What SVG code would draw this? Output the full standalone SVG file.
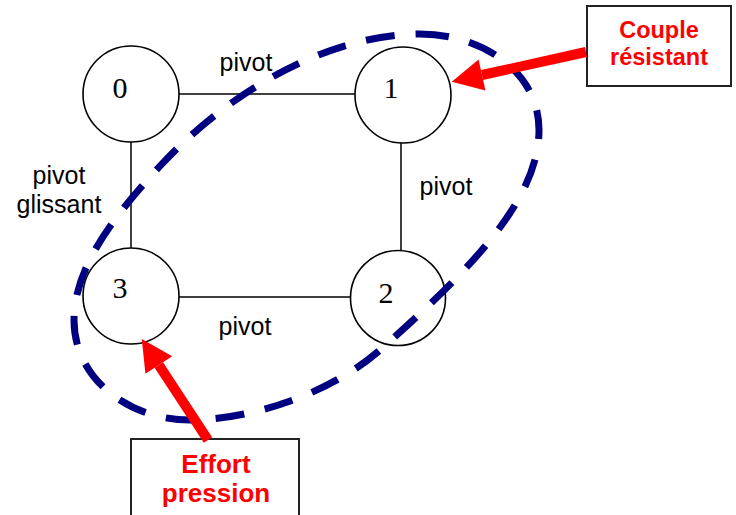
<svg xmlns="http://www.w3.org/2000/svg" width="736" height="515" viewBox="0 0 736 515">
<style>
.node{fill:#fff;stroke:#000;stroke-width:1.6}
.num{font-family:"Liberation Serif","Times New Roman",serif;font-size:30px;fill:#000;text-anchor:middle}
.lbl{font-family:"Liberation Sans",Arial,sans-serif;font-size:25px;fill:#000;text-anchor:middle}
.edge{stroke:#000;stroke-width:1.5;fill:none}
.box{fill:#fff;stroke:#222;stroke-width:2}
.red{font-family:"Liberation Sans",Arial,sans-serif;font-weight:bold;fill:#ff0000;text-anchor:middle}
.arrow{stroke:#ff0000;stroke-width:10;fill:none;marker-end:url(#head)}
.loop{fill:none;stroke:#000080;stroke-width:7;stroke-dasharray:29 21}
</style>
<defs>
<marker id="head" markerUnits="userSpaceOnUse" markerWidth="32" markerHeight="34" refX="0" refY="16" orient="auto" overflow="visible">
<path d="M0,0 L31,16 L0,32 Z" fill="#ff0000"/>
</marker>
</defs>
<g id="connectors">
<line class="edge" x1="179" y1="94" x2="355" y2="94"/>
<line class="edge" x1="131" y1="142" x2="131" y2="248"/>
<line class="edge" x1="401" y1="142" x2="401" y2="252"/>
<line class="edge" x1="179" y1="297" x2="351" y2="297"/>
</g>
<g id="node0"><circle class="node" cx="131" cy="94" r="48"/><text class="num" x="120" y="98">0</text></g>
<g id="node1"><circle class="node" cx="403" cy="95" r="48"/><text class="num" x="391" y="98">1</text></g>
<g id="node2"><circle class="node" cx="398" cy="298" r="47.5"/><text class="num" x="386" y="303">2</text></g>
<g id="node3"><circle class="node" cx="131" cy="296" r="48"/><text class="num" x="120" y="298">3</text></g>
<g id="labels">
<text class="lbl" x="246" y="71">pivot</text>
<text class="lbl" x="59" y="184">pivot</text>
<text class="lbl" x="59" y="213">glissant</text>
<text class="lbl" x="446" y="195">pivot</text>
<text class="lbl" x="245" y="335">pivot</text>
</g>
<g id="loop">
<path class="loop" d="M420,34 C480,34 539,70 539,130 C539,200 470,270 380,350 C330,394 250,420 190,420 C130,420 74,380 74,320 C74,270 110,220 160,166 C230,90 330,34 420,34 Z"/>
</g>
<g id="couple">
<rect class="box" x="587" y="6" width="144" height="80"/>
<text class="red" x="659" y="38" font-size="23.5">Couple</text>
<text class="red" x="659" y="65" font-size="23.5">résistant</text>
</g>
<g id="effort">
<rect class="box" x="131" y="439" width="168" height="90"/>
<text class="red" x="216" y="473" font-size="26">Effort</text>
<text class="red" x="216" y="502" font-size="26">pression</text>
</g>
<g id="arrows">
<line class="arrow" x1="586" y1="52" x2="482" y2="75"/>
<line class="arrow" x1="208" y1="440" x2="158.8" y2="365"/>
</g>
</svg>
